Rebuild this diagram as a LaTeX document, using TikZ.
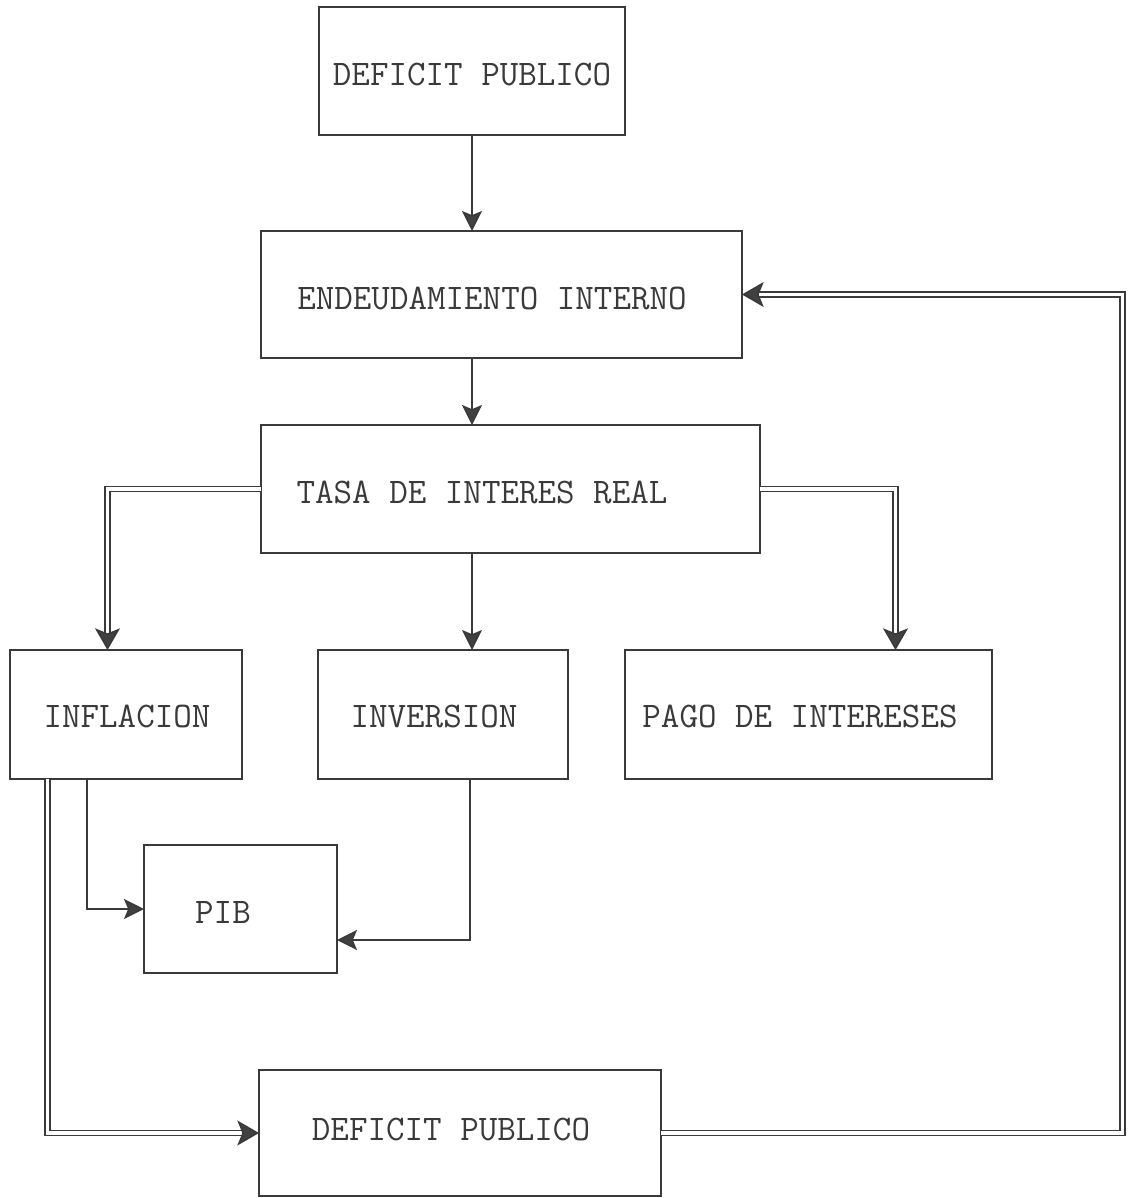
\documentclass[tikz,border=0pt]{standalone}
\usepackage{fontspec}
\usetikzlibrary{arrows.meta,calc}
\definecolor{ink}{HTML}{3A3A3A}
\definecolor{tip}{HTML}{404040}
\begin{document}
\begin{tikzpicture}[x=0.6pt,y=-0.6pt,
  box/.style={draw=ink,line width=1.1pt,rectangle,inner sep=0pt,outer sep=0pt},
  lbl/.style={inner sep=0pt,text=ink,font=\ttfamily\fontsize{21.6}{23}\selectfont},
  sgl/.style={draw=ink,line width=1pt,-{Stealth[length=12pt,width=12pt,inset=2.5pt,fill=tip]}},
  dbl/.style={draw=ink,line width=0.9pt,double=white,double distance=2.1pt,line join=miter},
  dbla/.style={dbl,-{Stealth[length=13pt,width=15pt,inset=3pt,fill=tip]}}]
\useasboundingbox (0,0) rectangle (1128,1198);
% boxes
\node[box,minimum width=183.6pt,minimum height=76.8pt] (top) at (472,71) {};
\node[box,minimum width=288.6pt,minimum height=76.2pt] (endeu) at (501.5,294.5) {};
\node[box,minimum width=299.4pt,minimum height=76.8pt] (tasa) at (510.5,489) {};
\node[box,minimum width=139.2pt,minimum height=77.4pt] (infl) at (126,714.5) {};
\node[box,minimum width=150pt,minimum height=77.4pt] (inv) at (443,714.5) {};
\node[box,minimum width=220.2pt,minimum height=77.4pt] (pago) at (808.5,714.5) {};
\node[box,minimum width=115.8pt,minimum height=76.8pt] (pib) at (240.5,909) {};
\node[box,minimum width=241.2pt,minimum height=75.6pt] (def2) at (460,1133) {};
% labels
\node[lbl] (topt) at (472,75) {DEFICIT PUBLICO};
\node[lbl] (endeut) at (492,298) {ENDEUDAMIENTO INTERNO};
\node[lbl] (tasat) at (482,492) {TASA DE INTERES REAL};
\node[lbl] (inflt) at (127,716) {INFLACION};
\node[lbl] (invt) at (434,716) {INVERSION};
\node[lbl] (pagot) at (800,716) {PAGO DE INTERESES};
\node[lbl] (pibt) at (223,912) {PIB};
\node[lbl] (def2t) at (451,1129) {DEFICIT PUBLICO};
% single connectors
\draw[sgl] (top.south) -- (top.south |- endeu.north);
\draw[sgl] (top.south |- endeu.south) -- (top.south |- tasa.north);
\draw[sgl] (top.south |- tasa.south) -- (top.south |- inv.north);
\draw[sgl] ($(infl.south)+(-39,0)$) |- (pib.west);
\draw[sgl] ($(inv.south)+(27,0)$) |- ($(pib.east)+(0,31)$);
% double connectors
\draw[dbla] (tasa.west) -| ($(infl.north)+(-18.5,0)$);
\draw[dbla] (tasa.east) -| ($(pago.north)+(87,0)$);
\draw[dbla] ($(infl.south)+(-78.5,0)$) |- (def2.west);
\coordinate (rc) at (1122.5,294.5);
\draw[dbla] (def2.east) -| (rc) -- (endeu.east);
\end{tikzpicture}
\end{document}
